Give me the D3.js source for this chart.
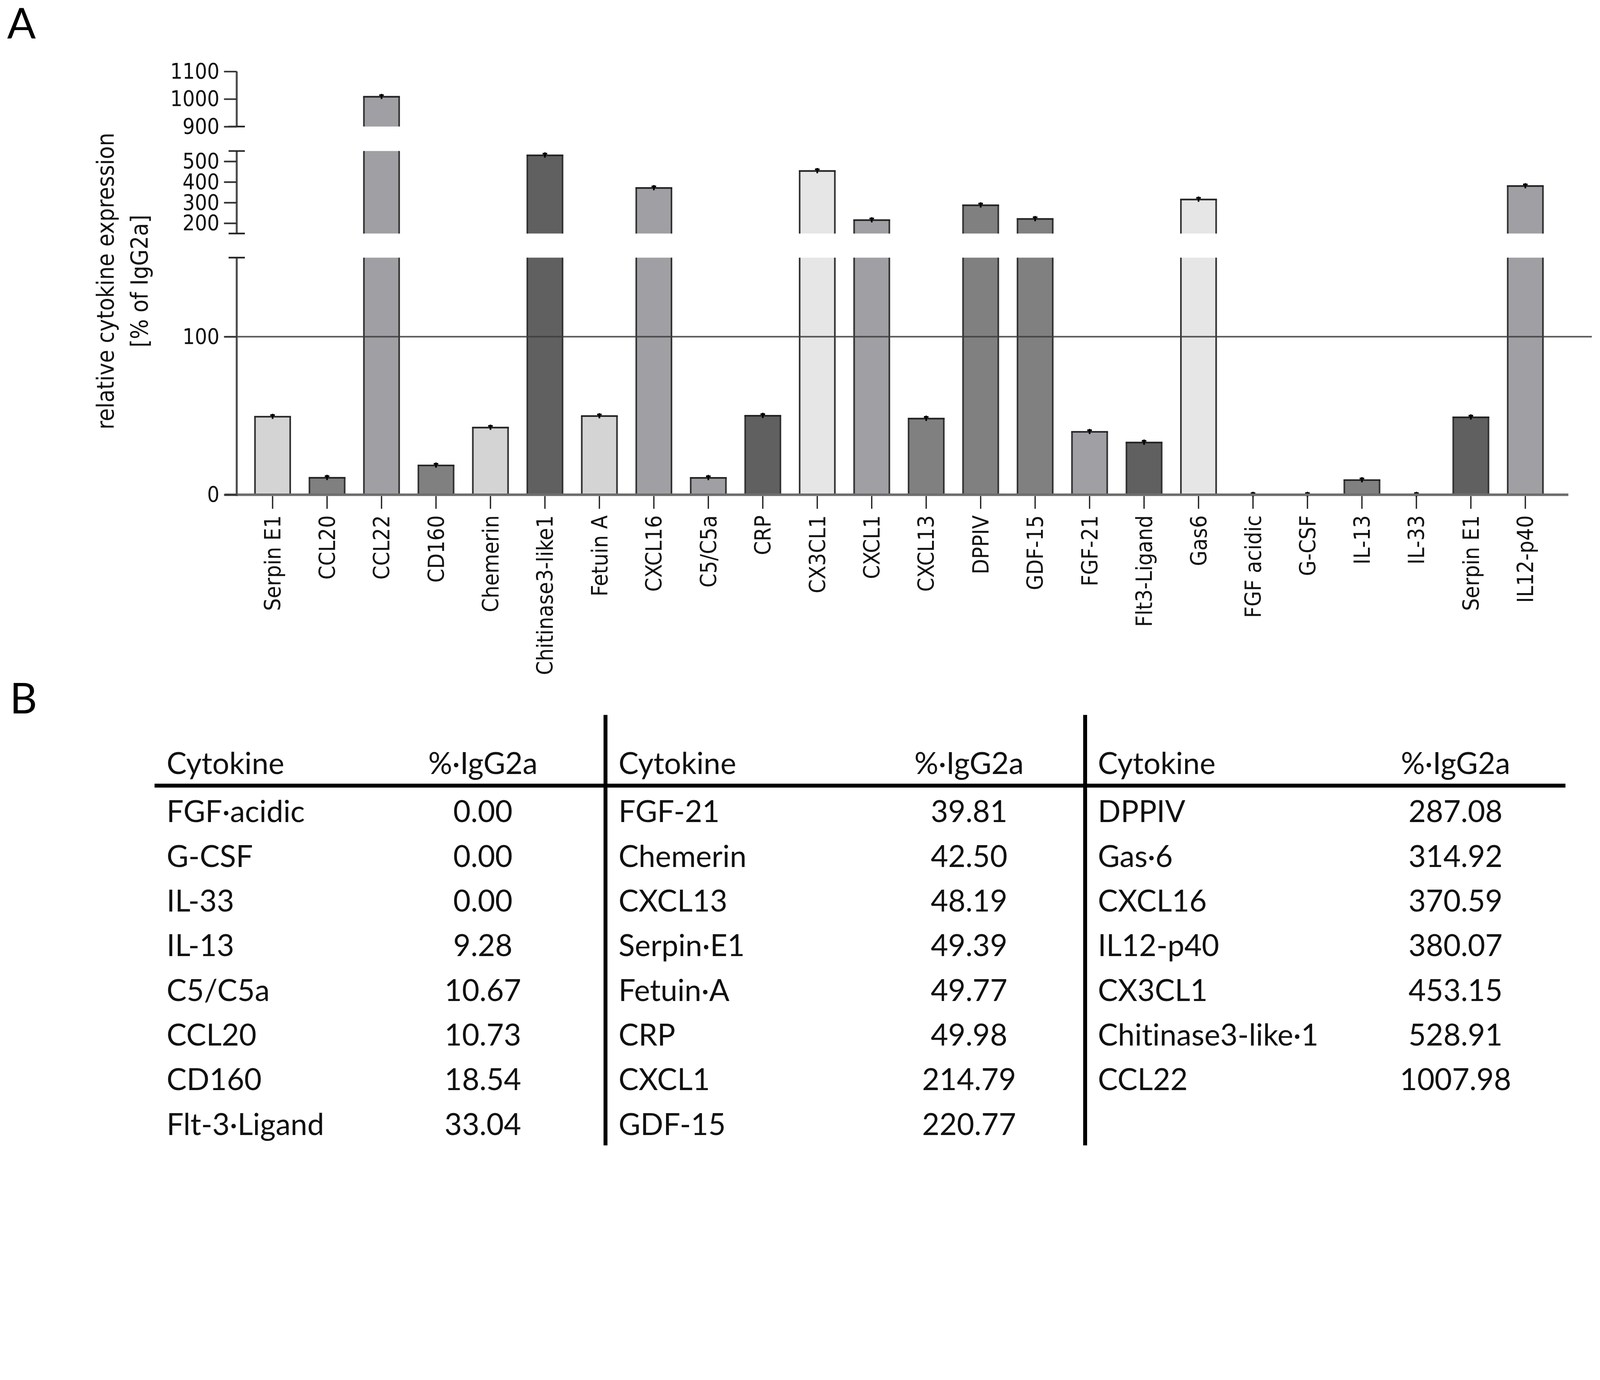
<!DOCTYPE html>
<html><head><meta charset="utf-8">
<script src="https://cdn.jsdelivr.net/npm/d3@7"></script>
<style>html,body{margin:0;padding:0;background:#fff;overflow:hidden;} svg{display:block;width:100%;height:auto;} text{font-variant-ligatures:none;font-feature-settings:"liga" 0;}</style>
</head><body>
<svg id="chart" viewBox="0 0 4907 3532" preserveAspectRatio="xMinYMin meet"></svg>
<script>
// ---------- DATA ----------
const categories = ["Serpin E1","CCL20","CCL22","CD160","Chemerin","Chitinase3-like1","Fetuin A","CXCL16","C5/C5a","CRP","CX3CL1","CXCL1","CXCL13","DPPIV","GDF-15","FGF-21","Flt3-Ligand","Gas6","FGF acidic","G-CSF","IL-13","IL-33","Serpin E1","IL12-p40"];
const values = [49.39,10.73,1007.98,18.54,42.50,528.91,49.77,370.59,10.67,49.98,453.15,214.79,48.19,287.08,220.77,39.81,33.04,314.92,0,0,9.28,0,49,380.07];
const shadeGroup = ["b","d","c","d","b","e","b","c","c","e","a","c","d","d","d","c","e","a","d","d","d","d","e","c"];
const ticksLow = [0,100];
const ticksMid = [200,300,400,500];
const ticksTop = [900,1000,1100];
const referenceValue = 100;
const yTitleLines = ["relative cytokine expression","[% of IgG2a]"];

const tableHeader = ["Cytokine","%·IgG2a"];
const col1Names = ["FGF·acidic","G-CSF","IL-33","IL-13","C5/C5a","CCL20","CD160","Flt-3·Ligand"];
const col1Values = ["0.00","0.00","0.00","9.28","10.67","10.73","18.54","33.04"];
const col2Names = ["FGF-21","Chemerin","CXCL13","Serpin·E1","Fetuin·A","CRP","CXCL1","GDF-15"];
const col2Values = ["39.81","42.50","48.19","49.39","49.77","49.98","214.79","220.77"];
const col3Names = ["DPPIV","Gas·6","CXCL16","IL12-p40","CX3CL1","Chitinase3-like·1","CCL22"];
const col3Values = ["287.08","314.92","370.59","380.07","453.15","528.91","1007.98"];

// ---------- STYLE / LAYOUT ----------
const chartFont = "'DejaVu Sans Condensed','DejaVu Sans',sans-serif";
const tableFont = "Lato,'Open Sans',sans-serif";
const svg = d3.select("#chart");
svg.append("rect").attr("width",4907).attr("height",3532).attr("fill","#fff");

const color = d3.scaleOrdinal().domain(["a","b","c","d","e"])
  .range(["#e6e6e6","#d4d4d4","#a0a0a4","#808080","#606060"]);

const x = d3.scalePoint().domain(d3.range(categories.length)).range([836,4678]);
const barW = 108;
const axisX = 726;

const yLow = d3.scaleLinear().domain([0,150]).range([1517,790]);
const yMid = d3.scaleLinear().domain([150,550]).range([716,463]);
const yTop = d3.scaleLinear().domain([900,1100]).range([388,219]);
const segments = [{lo:0,hi:150,s:yLow},{lo:150,hi:550,s:yMid},{lo:900,hi:1100,s:yTop}];

function yOf(v){
  if (v<=150) return yLow(v);
  if (v<=550) return yMid(v);
  return yTop(v);
}

svg.append("text").attr("x",22).attr("y",117).text("A")
  .attr("font-family",tableFont).attr("font-size",130).attr("fill","#000");

// ---------- BARS ----------
const gBars = svg.append("g");
values.forEach((v,i)=>{
  const cx = x(i), x0 = cx-barW/2, x1 = cx+barW/2;
  segments.forEach((seg,k)=>{
    if (k>0 && v<=seg.lo) return;
    if (k===2 && v<900) return;
    const top = Math.min(v, seg.hi);
    const yb = seg.s(seg.lo), yt = seg.s(top);
    gBars.append("rect").attr("x",x0).attr("y",yt).attr("width",barW).attr("height",Math.max(0,yb-yt))
      .attr("fill",color(shadeGroup[i]));
    gBars.append("path").attr("d",`M${x0},${yb}V${yt}M${x1},${yb}V${yt}`)
      .attr("stroke","#333").attr("stroke-width",5).attr("fill","none");
    if (v<=seg.hi){
      gBars.append("path").attr("d",`M${x0-2.5},${yt}H${x1+2.5}`)
        .attr("stroke","#222").attr("stroke-width",5);
    }
  });
  const yt = yOf(v);
  gBars.append("path").attr("d",`M${cx},${yt-9}V${yt+7}M${cx-7},${yt-5}H${cx+7}`)
    .attr("stroke","#000").attr("stroke-width",5);
});

// ---------- AXES ----------
const gAxis = svg.append("g");
gAxis.append("line").attr("x1",689).attr("x2",4810).attr("y1",yLow(0)).attr("y2",yLow(0))
  .attr("stroke","#6e6e6e").attr("stroke-width",8);
gAxis.append("line").attr("x1",689).attr("x2",4882).attr("y1",yLow(referenceValue)).attr("y2",yLow(referenceValue))
  .attr("stroke","#3c3c3c").attr("stroke-width",5).attr("stroke-opacity",0.85);
x.domain().forEach(i=>{
  gAxis.append("line").attr("x1",x(i)).attr("x2",x(i)).attr("y1",yLow(0)+4).attr("y2",1560)
    .attr("stroke","#222").attr("stroke-width",4);
});
segments.forEach(seg=>{
  gAxis.append("line").attr("x1",axisX).attr("x2",axisX)
    .attr("y1",seg.s(seg.hi)).attr("y2",seg===segments[0]?seg.s(seg.lo)+4:seg.s(seg.lo))
    .attr("stroke","#4a4a4a").attr("stroke-width",6);
});
[yTop(900), yMid(550), yMid(150), yLow(150)].forEach(yy=>{
  gAxis.append("line").attr("x1",axisX-25).attr("x2",axisX+25).attr("y1",yy).attr("y2",yy)
    .attr("stroke","#222").attr("stroke-width",5);
});
function styleAxis(g){
  g.select(".domain").remove();
  g.selectAll(".tick line").attr("stroke","#333").attr("stroke-width",5);
  g.selectAll(".tick text").attr("font-family",chartFont).attr("font-stretch","condensed")
    .attr("font-size",66).attr("fill","#111");
}
[[yLow,ticksLow],[yMid,ticksMid],[yTop,ticksTop]].forEach(([s,t])=>{
  const g = gAxis.append("g").attr("transform",`translate(${axisX},0)`)
    .call(d3.axisLeft(s).tickValues(t).tickSize(39).tickPadding(14).tickFormat(d3.format("d")));
  styleAxis(g);
});

categories.forEach((c,i)=>{
  svg.append("text").attr("transform",`translate(${x(i)},1580) rotate(-90)`)
    .attr("text-anchor","end").attr("dy","0.36em")
    .attr("font-family",chartFont).attr("font-stretch","condensed").attr("font-size",68).attr("fill","#111")
    .text(c);
});

const titleY = 862;
[349,453].forEach((bx,k)=>{
  svg.append("text").attr("transform",`translate(${bx},${titleY}) rotate(-90)`)
    .attr("text-anchor","middle")
    .attr("font-family",chartFont).attr("font-stretch","condensed").attr("font-size",72).attr("fill","#111")
    .text(yTitleLines[k]);
});

// ---------- TABLE (panel B) ----------
svg.append("text").attr("x",30).attr("y",2188).text("B")
  .attr("font-family",tableFont).attr("font-size",130).attr("fill","#000");

const gT = svg.append("g");
const rowY = d3.scaleLinear().domain([0,1]).range([2521,2658]);
const cols = [
  {names:col1Names, vals:col1Values, tx:511, vx:1481},
  {names:col2Names, vals:col2Values, tx:1897, vx:2972},
  {names:col3Names, vals:col3Values, tx:3367, vx:4464}
];
gT.append("line").attr("x1",474).attr("x2",4801).attr("y1",2409).attr("y2",2409)
  .attr("stroke","#000").attr("stroke-width",12);
[1857,3328].forEach(vx=>{
  gT.append("line").attr("x1",vx).attr("x2",vx).attr("y1",2192).attr("y2",3512)
    .attr("stroke","#000").attr("stroke-width",12);
});
cols.forEach(col=>{
  gT.append("text").attr("x",col.tx).attr("y",2373).text(tableHeader[0])
    .attr("font-family",tableFont).attr("font-size",92).attr("fill","#111");
  gT.append("text").attr("x",col.vx).attr("y",2373).attr("text-anchor","middle").text(tableHeader[1])
    .attr("font-family",tableFont).attr("font-size",92).attr("fill","#111");
  col.names.forEach((n,r)=>{
    gT.append("text").attr("x",col.tx).attr("y",rowY(r)).text(n)
      .attr("font-family",tableFont).attr("font-size",92).attr("fill","#111");
    gT.append("text").attr("x",col.vx).attr("y",rowY(r)).attr("text-anchor","middle").text(col.vals[r])
      .attr("font-family",tableFont).attr("font-size",92).attr("fill","#111");
  });
});
</script>
</body></html>
